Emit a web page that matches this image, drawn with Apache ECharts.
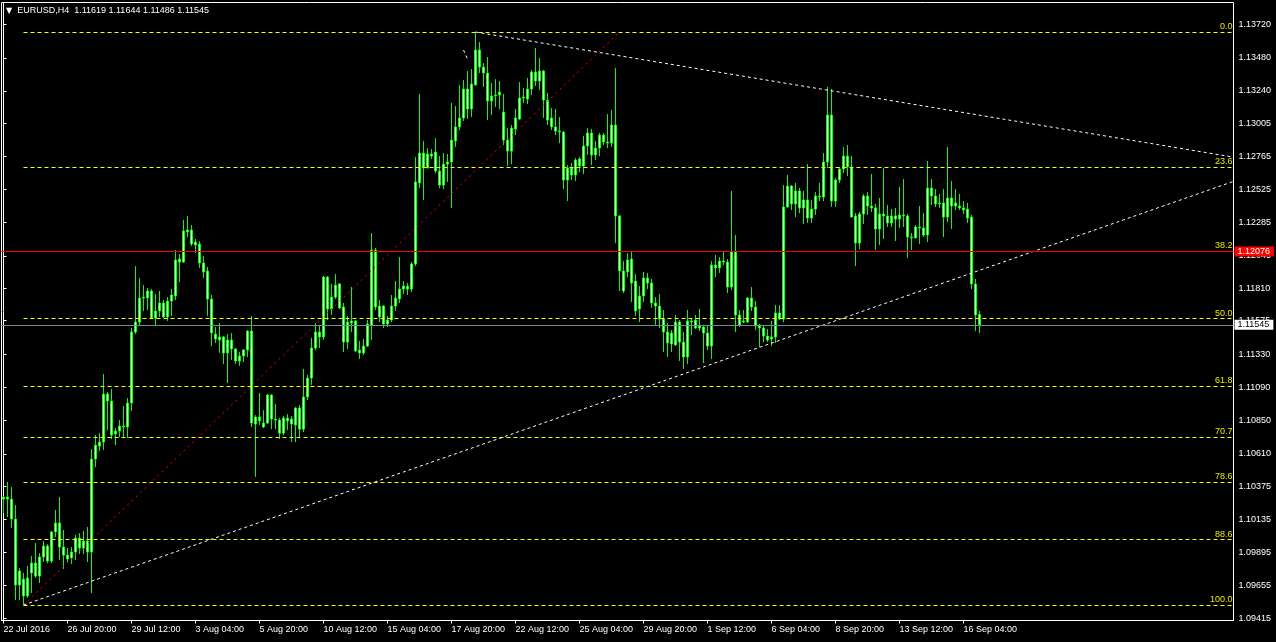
<!DOCTYPE html>
<html><head><meta charset="utf-8">
<script src="https://cdn.jsdelivr.net/npm/echarts@6/dist/echarts.min.js"></script>
<style>html,body{margin:0;padding:0;background:#000;overflow:hidden}#c{width:1276px;height:642px}</style>
</head><body><div id="c"></div>
<script>
// ---- data ----
const symbol = 'EURUSD';
const timeframe = 'H4';
const xTickLabels = ['22 Jul 2016','26 Jul 20:00','29 Jul 12:00','3 Aug 04:00','5 Aug 20:00','10 Aug 12:00','15 Aug 04:00','17 Aug 20:00','22 Aug 12:00','25 Aug 04:00','29 Aug 20:00','1 Sep 12:00','6 Sep 04:00','8 Sep 20:00','13 Sep 12:00','16 Sep 04:00'];
const yTickValues = [1.09415,1.09655,1.09895,1.10135,1.10375,1.10610,1.10850,1.11090,1.11330,1.11575,1.11810,1.12045,1.12285,1.12525,1.12765,1.13005,1.13240,1.13480,1.13720];
// [open, close, low, high]
const candles = [
[1.10282,1.10297,1.10181,1.10304],[1.10297,1.10282,1.10152,1.10406],[1.10282,1.10137,1.10072,1.10369],[1.10137,1.09659,1.09550,1.10239],
[1.09659,1.09761,1.09550,1.09782],[1.09702,1.09580,1.09514,1.09746],[1.09580,1.09710,1.09565,1.09797],[1.09746,1.09818,1.09601,1.09869],
[1.09818,1.09724,1.09710,1.09963],[1.09724,1.09862,1.09673,1.09891],[1.09862,1.09942,1.09826,1.09978],[1.09942,1.09833,1.09818,1.09956],
[1.09833,1.10044,1.09818,1.10051],[1.10044,1.10109,1.10007,1.10203],[1.10109,1.09934,1.09840,1.10297],[1.09934,1.09876,1.09775,1.10058],
[1.09876,1.09847,1.09826,1.09927],[1.09855,1.09898,1.09811,1.09934],[1.09898,1.10000,1.09840,1.10022],[1.10000,1.09927,1.09884,1.10036],
[1.09927,1.09978,1.09884,1.10051],[1.09978,1.09898,1.09826,1.10080],[1.09898,1.10572,1.09601,1.10644],[1.10572,1.10673,1.10514,1.10746],
[1.10666,1.10695,1.10630,1.10760],[1.10695,1.11043,1.10637,1.11188],[1.11043,1.10993,1.10782,1.11058],[1.10993,1.10746,1.10717,1.11080],
[1.10753,1.10775,1.10673,1.10797],[1.10775,1.10811,1.10731,1.10855],[1.10811,1.10804,1.10724,1.10956],[1.10804,1.10978,1.10724,1.11014],
[1.10978,1.11493,1.10920,1.11522],[1.11493,1.11565,1.11478,1.11971],[1.11565,1.11739,1.11536,1.11884],[1.11739,1.11746,1.11645,1.11833],
[1.11739,1.11790,1.11652,1.11812],[1.11790,1.11594,1.11587,1.11804],[1.11594,1.11645,1.11536,1.11768],[1.11645,1.11703,1.11602,1.11790],
[1.11703,1.11602,1.11594,1.11725],[1.11602,1.11717,1.11573,1.11746],[1.11717,1.11761,1.11609,1.11804],[1.11754,1.12015,1.11725,1.12087],
[1.12000,1.12022,1.11855,1.12058],[1.12000,1.12225,1.11993,1.12305],[1.12218,1.12232,1.12181,1.12334],[1.12232,1.12131,1.12116,1.12268],
[1.12145,1.12123,1.12065,1.12167],[1.12131,1.11993,1.11957,1.12152],[1.11993,1.11928,1.11884,1.12044],[1.11935,1.11732,1.11609,1.11964],
[1.11732,1.11486,1.11391,1.11761],[1.11478,1.11442,1.11413,1.11529],[1.11435,1.11457,1.11341,1.11558],[1.11457,1.11341,1.11261,1.11464],
[1.11341,1.11435,1.11123,1.11478],[1.11435,1.11370,1.11290,1.11486],[1.11370,1.11283,1.11261,1.11377],[1.11283,1.11319,1.11247,1.11348],
[1.11319,1.11362,1.11276,1.11370],[1.11362,1.11500,1.11312,1.11507],[1.11500,1.10833,1.10804,1.11609],[1.10826,1.10877,1.10442,1.10891],
[1.10877,1.10848,1.10819,1.11051],[1.10833,1.10804,1.10797,1.10927],[1.10833,1.11036,1.10826,1.11043],[1.11036,1.10862,1.10789,1.11043],
[1.10862,1.10855,1.10789,1.10971],[1.10855,1.10760,1.10717,1.10869],[1.10760,1.10869,1.10746,1.10884],[1.10869,1.10848,1.10782,1.10898],
[1.10862,1.10826,1.10695,1.10884],[1.10819,1.10942,1.10695,1.10949],[1.10942,1.10789,1.10731,1.10964],[1.10789,1.11022,1.10768,1.11225],
[1.11022,1.11159,1.11000,1.11181],[1.11159,1.11377,1.11109,1.11450],[1.11377,1.11493,1.11362,1.11558],[1.11493,1.11457,1.11377,1.11544],
[1.11457,1.11891,1.11435,1.11899],[1.11891,1.11660,1.11580,1.11899],[1.11660,1.11746,1.11616,1.11841],[1.11746,1.11833,1.11732,1.11913],
[1.11841,1.11667,1.11660,1.11848],[1.11674,1.11420,1.11348,1.11703],[1.11420,1.11565,1.11370,1.11609],[1.11558,1.11573,1.11493,1.11819],
[1.11573,1.11355,1.11348,1.11580],[1.11362,1.11341,1.11297,1.11428],[1.11341,1.11391,1.11326,1.11442],[1.11391,1.11551,1.11384,1.11580],
[1.11544,1.12087,1.11435,1.12210],[1.12087,1.11674,1.11652,1.12102],[1.11681,1.11602,1.11565,1.11725],[1.11681,1.11551,1.11522,1.11688],
[1.11551,1.11580,1.11529,1.11609],[1.11580,1.11681,1.11565,1.11761],[1.11681,1.11739,1.11645,1.11862],[1.11732,1.11804,1.11703,1.12036],
[1.11804,1.11826,1.11768,1.11862],[1.11826,1.11804,1.11761,1.11848],[1.11804,1.11986,1.11783,1.12000],[1.11986,1.12580,1.11971,1.12761],
[1.12573,1.12790,1.12536,1.13218],[1.12790,1.12681,1.12450,1.12877],[1.12681,1.12783,1.12681,1.12826],[1.12783,1.12768,1.12747,1.12819],
[1.12797,1.12660,1.12645,1.12899],[1.12660,1.12558,1.12536,1.12768],[1.12558,1.12710,1.12529,1.12790],[1.12710,1.12725,1.12580,1.12783],
[1.12725,1.12884,1.12392,1.13153],[1.12877,1.12979,1.12834,1.13131],[1.12979,1.13044,1.12957,1.13283],[1.13044,1.13254,1.13022,1.13319],
[1.13254,1.13109,1.13037,1.13384],[1.13109,1.13290,1.13051,1.13399],[1.13283,1.13537,1.13283,1.13667],[1.13537,1.13413,1.13370,1.13595],
[1.13413,1.13370,1.13269,1.13442],[1.13370,1.13167,1.13029,1.13486],[1.13167,1.13203,1.13066,1.13297],[1.13203,1.13210,1.13124,1.13326],
[1.13210,1.13232,1.13109,1.13312],[1.13087,1.12884,1.12848,1.13218],[1.12884,1.12804,1.12696,1.12971],[1.12804,1.12971,1.12710,1.12993],
[1.12964,1.13044,1.12920,1.13109],[1.13037,1.13189,1.13029,1.13305],[1.13189,1.13196,1.13153,1.13261],[1.13181,1.13254,1.13145,1.13334],
[1.13254,1.13377,1.13210,1.13392],[1.13377,1.13312,1.13276,1.13551],[1.13312,1.13384,1.13247,1.13479],[1.13384,1.13174,1.13044,1.13392],
[1.13174,1.13029,1.12993,1.13225],[1.13044,1.12979,1.12957,1.13116],[1.12979,1.12949,1.12920,1.13109],[1.12949,1.12942,1.12862,1.13051],
[1.12942,1.12594,1.12529,1.12949],[1.12594,1.12681,1.12442,1.12703],[1.12681,1.12631,1.12594,1.12718],[1.12631,1.12739,1.12587,1.12754],
[1.12747,1.12696,1.12652,1.12761],[1.12696,1.12841,1.12638,1.12913],[1.12841,1.12935,1.12776,1.12971],[1.12935,1.12776,1.12703,1.12964],
[1.12776,1.12826,1.12739,1.12877],[1.12826,1.12920,1.12768,1.12935],[1.12920,1.12870,1.12848,1.12935],[1.12870,1.12862,1.12826,1.13073],
[1.12862,1.12993,1.12834,1.13102],[1.12993,1.12334,1.12138,1.13406],[1.12334,1.11935,1.11790,1.12341],[1.11935,1.11790,1.11775,1.12007],
[1.11928,1.12015,1.11891,1.12065],[1.12022,1.11848,1.11710,1.12073],[1.11862,1.11645,1.11609,1.11913],[1.11660,1.11754,1.11565,1.11826],
[1.11754,1.11884,1.11710,1.11928],[1.11884,1.11848,1.11804,1.11921],[1.11848,1.11703,1.11667,1.11877],[1.11703,1.11681,1.11544,1.11746],
[1.11681,1.11587,1.11522,1.11768],[1.11587,1.11493,1.11348,1.11652],[1.11493,1.11413,1.11312,1.11558],[1.11406,1.11486,1.11348,1.11507],
[1.11399,1.11565,1.11391,1.11616],[1.11565,1.11420,1.11283,1.11580],[1.11420,1.11312,1.11225,1.11493],[1.11312,1.11573,1.11261,1.11652],
[1.11573,1.11565,1.11471,1.11594],[1.11580,1.11522,1.11515,1.11616],[1.11522,1.11536,1.11500,1.11660],[1.11529,1.11486,1.11268,1.11544],
[1.11486,1.11391,1.11362,1.11544],[1.11391,1.11978,1.11297,1.12007],[1.11978,1.11957,1.11891,1.12051],[1.11957,1.12007,1.11921,1.12036],
[1.12007,1.12000,1.11978,1.12073],[1.12000,1.11819,1.11775,1.12022],[1.11819,1.12073,1.11797,1.12515],[1.12073,1.11616,1.11493,1.12196],
[1.11616,1.11544,1.11529,1.11652],[1.11565,1.11573,1.11558,1.11652],[1.11565,1.11739,1.11558,1.11746],[1.11739,1.11674,1.11645,1.11819],
[1.11674,1.11536,1.11507,1.11717],[1.11544,1.11522,1.11384,1.11551],[1.11522,1.11464,1.11420,1.11544],[1.11464,1.11435,1.11420,1.11515],
[1.11442,1.11457,1.11391,1.11573],[1.11457,1.11631,1.11413,1.11688],[1.11631,1.11587,1.11580,1.11688],[1.11587,1.12399,1.11565,1.12558],
[1.12399,1.12551,1.12392,1.12631],[1.12551,1.12421,1.12377,1.12558],[1.12421,1.12515,1.12326,1.12573],[1.12515,1.12392,1.12355,1.12537],
[1.12392,1.12450,1.12276,1.12515],[1.12450,1.12319,1.12283,1.12710],[1.12319,1.12384,1.12283,1.12450],[1.12384,1.12478,1.12341,1.12507],
[1.12478,1.12471,1.12442,1.12573],[1.12471,1.12725,1.12442,1.12790],[1.12725,1.13066,1.12681,1.13269],[1.13066,1.12442,1.12399,1.13254],
[1.12442,1.12594,1.12399,1.12609],[1.12594,1.12674,1.12573,1.12689],[1.12674,1.12768,1.12645,1.12833],[1.12768,1.12689,1.12623,1.12848],
[1.12689,1.12326,1.12326,1.12768],[1.12334,1.12138,1.11971,1.12355],[1.12138,1.12348,1.12094,1.12363],[1.12348,1.12478,1.12276,1.12493],
[1.12478,1.12406,1.12341,1.12507],[1.12406,1.12392,1.12363,1.12638],[1.12392,1.12239,1.12087,1.12421],[1.12239,1.12348,1.12123,1.12464],
[1.12348,1.12334,1.12167,1.12681],[1.12334,1.12283,1.12254,1.12413],[1.12283,1.12334,1.12254,1.12384],[1.12334,1.12312,1.12152,1.12392],
[1.12312,1.12341,1.12247,1.12544],[1.12341,1.12334,1.12254,1.12602],[1.12334,1.12181,1.12029,1.12348],[1.12181,1.12174,1.12087,1.12210],
[1.12174,1.12254,1.12174,1.12268],[1.12254,1.12247,1.12131,1.12406],[1.12247,1.12196,1.12181,1.12355],[1.12196,1.12536,1.12145,1.12732],
[1.12536,1.12478,1.12413,1.12602],[1.12478,1.12421,1.12399,1.12529],[1.12421,1.12428,1.12392,1.12493],[1.12428,1.12326,1.12181,1.12529],
[1.12326,1.12464,1.12290,1.12833],[1.12464,1.12406,1.12239,1.12587],[1.12406,1.12428,1.12377,1.12529],[1.12406,1.12392,1.12377,1.12493],
[1.12392,1.12377,1.12348,1.12442],[1.12384,1.12319,1.12283,1.12428],[1.12326,1.11841,1.11804,1.12341],[1.11841,1.11616,1.11500,1.11877],
[1.11619,1.11545,1.11486,1.11644]
];
// Fibonacci retracement object: anchors (bar index, price)
const fibLowBar = 5, fibLow = 1.09514;
const fibHighBar = 154, fibHigh = 1.13667;
const fibLevels = [0.0, 23.6, 38.2, 50.0, 61.8, 70.7, 78.6, 88.6, 100.0];
// horizontal lines
const alertPrice = 1.12076;
const bidPrice = 1.11545;
// trend lines: two anchors each [bar index, price]
const upperTrend = [[118, 1.13667], [206, 1.13246]];
const lowerTrend = [[5, 1.09514], [191, 1.11402]];
const shortSegment = [[115, 1.13537], [116, 1.13471]];
// visible bar slots (includes empty chart shift area on the right)
const totalSlots = 308;
const yMin = 1.09402, yMax = 1.13881;

// ---- chart ----
const FONT = '"Liberation Sans", Arial, sans-serif';
const categories = Array.from({length: totalSlots}, (_, i) =>
  (i % 16 === 0 && i / 16 < xTickLabels.length) ? xTickLabels[i / 16] : '');
const xStart = -0.5, xEnd = totalSlots - 0.5;
function rayTo(p1, p2, x) {
  const k = (p2[1] - p1[1]) / (p2[0] - p1[0]);
  return [x, p1[1] + k * (x - p1[0])];
}
const last = candles[candles.length - 1];
const titleText = symbol + ',' + timeframe + '  ' + [last[0], last[3], last[2], last[1]].map(v => v.toFixed(5)).join(' ');

const fibLines = fibLevels.map(r => {
  const v = fibHigh - (fibHigh - fibLow) * r / 100;
  return [{coord: [fibLowBar, v], label: {formatter: r.toFixed(1)}}, {coord: [xEnd, v]}];
});

function helper(markLine, z) {
  return {type: 'line', xAxisIndex: 1, yAxisIndex: 0, data: [], symbol: 'none', silent: true, z: z || 3,
    markLine: Object.assign({symbol: ['none', 'none'], silent: true, animation: false, precision: 5}, markLine)};
}

const option = {
  backgroundColor: '#000',
  animation: false,
  title: {
    text: '{t|▼}  ' + titleText, left: 6, top: 6, padding: 0,
    textStyle: {color: '#fff', fontSize: 9, fontWeight: 'normal', fontFamily: FONT,
      rich: {t: {fontSize: 8, color: '#fff', fontFamily: '"DejaVu Sans", sans-serif'}}}
  },
  grid: {left: 1.5, right: 42.5, top: 2.5, bottom: 21.5, show: true, borderColor: '#fff', borderWidth: 1, backgroundColor: 'transparent'},
  xAxis: [{
    type: 'category', data: categories, boundaryGap: true,
    axisLine: {show: true, lineStyle: {color: '#fff', width: 1}},
    axisTick: {show: true, alignWithLabel: true, length: 3, interval: (i, v) => v !== '', lineStyle: {color: '#fff'}},
    axisLabel: {show: true, interval: (i, v) => v !== '', align: 'left', color: '#fff', fontSize: 9, fontFamily: FONT, margin: 5},
    splitLine: {show: false}
  }, {
    type: 'value', min: xStart, max: xEnd, show: false
  }],
  yAxis: [{
    type: 'value', position: 'right', min: yMin, max: yMax, scale: true,
    splitLine: {show: false},
    axisLine: {show: true, lineStyle: {color: '#fff', width: 1}},
    axisTick: {show: true, length: 3, customValues: yTickValues, lineStyle: {color: '#fff'}},
    axisLabel: {show: true, customValues: yTickValues, formatter: v => v.toFixed(5), color: '#fff', fontSize: 9, fontFamily: FONT, margin: 5}
  }],
  series: [
    {
      type: 'candlestick', data: candles, xAxisIndex: 0, yAxisIndex: 0, barWidth: 2, z: 2,
      itemStyle: {color: '#ffffff', color0: '#ffffff', borderColor: '#00ff00', borderColor0: '#00ff00', borderColorDoji: '#00ff00', borderWidth: 1}
    },
    helper({
      data: fibLines,
      lineStyle: {color: '#ffff00', width: 1, type: [4, 3]},
      label: {show: true, position: 'insideEndTop', color: '#e8e800', fontSize: 9, fontFamily: FONT, distance: [1, 1]}
    }),
    helper({
      data: [[{coord: [fibLowBar, fibLow]}, {coord: [fibHighBar, fibHigh]}]],
      lineStyle: {color: '#ff0000', width: 1, type: [2, 4]}, label: {show: false}
    }),
    helper({
      data: [
        [{coord: upperTrend[0]}, {coord: rayTo(upperTrend[0], upperTrend[1], xEnd)}],
        [{coord: lowerTrend[0]}, {coord: rayTo(lowerTrend[0], lowerTrend[1], xEnd)}],
        [{coord: shortSegment[0]}, {coord: shortSegment[1]}]
      ],
      lineStyle: {color: '#ffffff', width: 1, type: [3, 3]}, label: {show: false}
    }),
    helper({
      data: [[{coord: [xStart, bidPrice]}, {coord: [xEnd, bidPrice]}]],
      lineStyle: {color: '#778899', width: 1, type: 'solid'},
      label: {show: true, position: 'end', formatter: bidPrice.toFixed(5), color: '#000', backgroundColor: '#fff', padding: [1, 4, 0, 3], fontSize: 9, fontFamily: FONT, distance: 1}
    }, 4),
    helper({
      data: [[{coord: [xStart, alertPrice]}, {coord: [xEnd, alertPrice]}]],
      lineStyle: {color: '#ff0000', width: 1, type: 'solid'},
      label: {show: true, position: 'end', formatter: alertPrice.toFixed(5), color: '#fff', backgroundColor: '#ff0000', padding: [1, 4, 0, 3], fontSize: 9, fontFamily: FONT, distance: 1}
    }, 4)
  ]
};
const chart = echarts.init(document.getElementById('c'), null, {renderer: 'canvas'});
chart.setOption(option);
</script>
</body></html>
